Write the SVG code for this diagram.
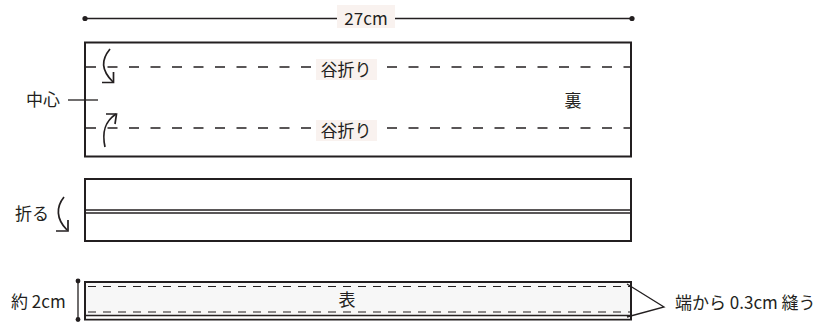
<svg xmlns="http://www.w3.org/2000/svg" width="823" height="323" viewBox="0 0 823 323">
<style>
  .ln{stroke:#231f20;fill:none;stroke-width:1.3}
  .box{stroke:#231f20;fill:#fff;stroke-width:2}
  .dash{stroke:#231f20;fill:none;stroke-width:1.3;stroke-dasharray:10 11.5}
  .dash2{stroke:#231f20;fill:none;stroke-width:1.2;stroke-dasharray:8 7}
  .arr{stroke:#231f20;fill:none;stroke-width:1.7;stroke-linejoin:miter}
  .t{font-family:"Noto Sans CJK JP","Noto Sans",sans-serif;fill:#231f20;font-size:17px}
  .bg{fill:#f9f2ef}
  .dot{fill:#231f20}
</style>
<rect width="823" height="323" fill="#fff"/>
<g id="dimension-top">
  <line class="ln" x1="85" y1="18.5" x2="632" y2="18.5"/>
  <circle class="dot" cx="85" cy="18.5" r="2.6"/>
  <circle class="dot" cx="632" cy="18.5" r="2.6"/>
  <rect class="bg" x="337" y="5" width="58" height="23"/>
  <text class="t" x="366" y="24.5" text-anchor="middle" font-size="18">27cm</text>
</g>
<g id="step1">
  <rect class="box" x="85" y="42.5" width="546" height="114"/>
  <line class="dash" x1="86" y1="67" x2="630" y2="67"/>
  <line class="dash" x1="86" y1="128" x2="630" y2="128"/>
  <rect class="bg" x="316" y="59" width="61" height="21"/>
  <rect class="bg" x="316" y="120" width="61" height="21"/>
  <text class="t" x="346" y="76" text-anchor="middle">谷折り</text>
  <text class="t" x="346" y="137" text-anchor="middle">谷折り</text>
  <text class="t" x="573" y="107" text-anchor="middle" font-size="19">裏</text>
  <path class="arr" d="M110,49 C101,60 101,70 113,82"/>
  <path class="arr" d="M102,82.5 L113.5,82.5 L113.5,72"/>
  <path class="arr" d="M105,147 C102,133 104,122 116,114"/>
  <path class="arr" d="M106,114 L116.5,114 L115,124"/>
</g>
<g id="center-label">
  <text class="t" x="26" y="106">中心</text>
  <line class="ln" x1="68" y1="100" x2="98" y2="100"/>
</g>
<g id="step2">
  <rect class="box" x="85" y="179" width="546" height="62"/>
  <line class="ln" x1="85" y1="210" x2="631" y2="210" stroke-width="1.2"/>
  <line class="ln" x1="85" y1="213" x2="631" y2="213" stroke-width="1.2"/>
  <text class="t" x="15" y="220" font-size="17.5">折る</text>
  <path class="arr" d="M64,197 C56,207 56,219 67,230"/>
  <path class="arr" d="M56,231 L68,231 L68,220"/>
</g>
<g id="step3">
  <rect class="box" x="85" y="282" width="546" height="37.5" style="fill:#f7f7f7"/>
  <rect x="86" y="316.2" width="544" height="2.4" fill="#fff"/>
  <line class="ln" x1="85" y1="315.5" x2="631" y2="315.5" stroke-width="1.2"/>
  <line class="dash2" x1="88" y1="286.5" x2="630" y2="286.5"/>
  <line class="dash2" x1="88" y1="312" x2="630" y2="312"/>
  <text class="t" x="347" y="306" text-anchor="middle" font-size="18">表</text>
  <line class="ln" x1="78" y1="281" x2="78" y2="319.5" stroke-width="1.6"/>
  <circle class="dot" cx="78" cy="281" r="2.4"/>
  <circle class="dot" cx="78" cy="319.5" r="2.4"/>
  <text class="t" x="11" y="308" font-size="18.5">約 2cm</text>
</g>
<g id="connectors">
  <polyline class="ln" points="627,284 664,307 627,317" stroke-width="2"/>
</g>
<g id="seam-label">
  <text class="t" x="675" y="309" font-size="18.5">端から 0.3cm 縫う</text>
</g>
</svg>
